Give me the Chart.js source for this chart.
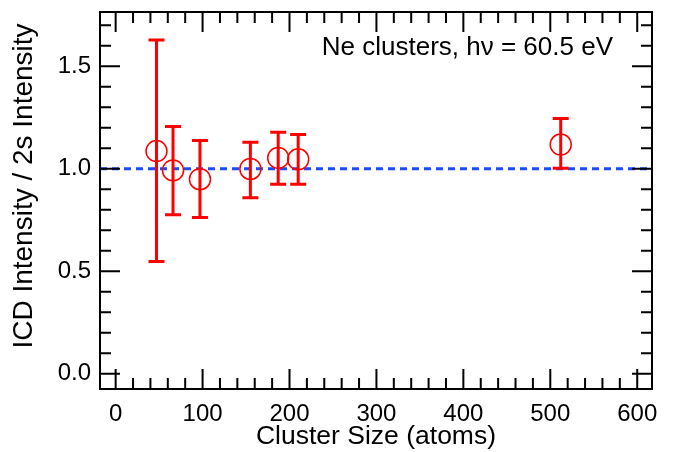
<!DOCTYPE html>
<html>
<head>
<meta charset="utf-8">
<script src="https://cdn.jsdelivr.net/npm/chart.js@4.4.1/dist/chart.umd.min.js"></script>
<style>
  html, body { margin: 0; padding: 0; background: #fff; }
  #wrap { width: 674px; height: 452px; }
</style>
</head>
<body>
<div id="wrap"><canvas id="myChart" width="674" height="452"></canvas></div>
<script>
// Ne cluster data
const clusterSizes = [47, 66, 97, 155, 187, 210, 512];
const ratios = [1.086, 0.992, 0.949, 0.999, 1.053, 1.046, 1.118];
const errLow = [0.547, 0.775, 0.762, 0.859, 0.924, 0.924, 1.003];
const errHigh = [1.628, 1.206, 1.138, 1.129, 1.178, 1.167, 1.245];

const xTickValues = [0, 100, 200, 300, 400, 500, 600];
const yTickValues = [0.0, 0.5, 1.0, 1.5];
const xMinorStep = 20;
const yMinorStep = 0.1;
const refLevel = 1.0;

const FONT = '"Liberation Sans", Arial, Helvetica, sans-serif';

// frame box with inward major/minor ticks on all four sides, plus texts
const frameTicks = {
    id: 'frameTicks',
    afterDraw(chart) {
        const ctx = chart.ctx;
        const a = chart.chartArea;
        const xs = chart.scales.x;
        const ys = chart.scales.y;
        ctx.save();
        ctx.strokeStyle = '#000';
        ctx.lineWidth = 2;
        ctx.strokeRect(a.left, a.top, a.right - a.left, a.bottom - a.top);
        ctx.beginPath();
        for (let v = -100; v <= 700; v += xMinorStep) {
            if (v < xs.min || v > xs.max) continue;
            const px = xs.getPixelForValue(v);
            const len = (v % 100 === 0) ? 20 : 11;
            ctx.moveTo(px, a.bottom); ctx.lineTo(px, a.bottom - len);
            ctx.moveTo(px, a.top); ctx.lineTo(px, a.top + len);
        }
        for (let i = -5; i <= 20; i++) {
            const v = i * yMinorStep;
            if (v < ys.min || v > ys.max) continue;
            const py = ys.getPixelForValue(v);
            const len = (i % 5 === 0) ? 20 : 11;
            ctx.moveTo(a.left, py); ctx.lineTo(a.left + len, py);
            ctx.moveTo(a.right, py); ctx.lineTo(a.right - len, py);
        }
        ctx.stroke();

        ctx.fillStyle = '#000';
        ctx.font = '26px ' + FONT;
        ctx.textAlign = 'right';
        ctx.textBaseline = 'alphabetic';
        ctx.fillText('Ne clusters, h\u03BD = 60.5 eV', 613, 55);

        // y axis title
        ctx.translate(24, 186);
        ctx.rotate(-Math.PI / 2);
        ctx.font = '28px ' + FONT;
        ctx.textAlign = 'center';
        ctx.textBaseline = 'middle';
        ctx.fillText('ICD Intensity / 2s Intensity', 0, 0);
        ctx.restore();
    }
};

const errorBars = {
    id: 'errorBars',
    afterDatasetsDraw(chart) {
        const ctx = chart.ctx;
        const xs = chart.scales.x;
        const ys = chart.scales.y;
        ctx.save();
        ctx.strokeStyle = '#ff0000';
        ctx.lineWidth = 3;
        ctx.beginPath();
        for (let i = 0; i < clusterSizes.length; i++) {
            const px = xs.getPixelForValue(clusterSizes[i]);
            const lo = ys.getPixelForValue(errLow[i]);
            const hi = ys.getPixelForValue(errHigh[i]);
            ctx.moveTo(px, lo); ctx.lineTo(px, hi);
            ctx.moveTo(px - 8, lo); ctx.lineTo(px + 8, lo);
            ctx.moveTo(px - 8, hi); ctx.lineTo(px + 8, hi);
        }
        ctx.stroke();
        ctx.restore();
    }
};

const ctx = document.getElementById('myChart').getContext('2d');
new Chart(ctx, {
    type: 'scatter',
    data: {
        datasets: [{
            label: 'ICD / 2s',
            data: clusterSizes.map((x, i) => ({ x: x, y: ratios[i] })),
            pointStyle: 'circle',
            pointRadius: 10.5,
            pointHoverRadius: 10.5,
            borderColor: '#ff0000',
            backgroundColor: 'rgba(0,0,0,0)',
            borderWidth: 1.5,
            order: 0
        }, {
            label: 'reference',
            type: 'line',
            data: [{ x: -18, y: refLevel }, { x: 617, y: refLevel }],
            borderColor: '#1a4cff',
            borderWidth: 3,
            borderDash: [7, 5],
            pointRadius: 0,
            fill: false,
            order: 1
        }]
    },
    options: {
        responsive: false,
        animation: false,
        layout: { padding: { top: 10, right: 22, left: 0, bottom: 0 } },
        plugins: {
            legend: { display: false },
            tooltip: { enabled: false }
        },
        scales: {
            x: {
                type: 'linear',
                min: -18,
                max: 617,
                afterBuildTicks: s => { s.ticks = xTickValues.map(v => ({ value: v })); },
                afterFit: s => { s.height = 63; s.paddingLeft = 0; s.paddingRight = 0; },
                grid: { display: false, drawTicks: false },
                border: { display: false },
                ticks: {
                    color: '#000',
                    font: { family: FONT, size: 24 },
                    padding: 11,
                    maxRotation: 0,
                    autoSkip: false,
                    callback: v => String(v)
                },
                title: {
                    display: true,
                    text: 'Cluster Size (atoms)',
                    color: '#000',
                    font: { family: FONT, size: 26.5 },
                    padding: { top: 0, bottom: -1 }
                }
            },
            y: {
                type: 'linear',
                min: -0.075,
                max: 1.765,
                afterBuildTicks: s => { s.ticks = yTickValues.map(v => ({ value: v })); },
                afterFit: s => { s.width = 100; s.paddingTop = 0; s.paddingBottom = 0; },
                grid: { display: false, drawTicks: false },
                border: { display: false },
                ticks: {
                    color: '#000',
                    font: { family: FONT, size: 24 },
                    padding: 9,
                    autoSkip: false,
                    callback: v => v.toFixed(1)
                },
                title: { display: false }
            }
        }
    },
    plugins: [frameTicks, errorBars]
});
</script>
</body>
</html>
